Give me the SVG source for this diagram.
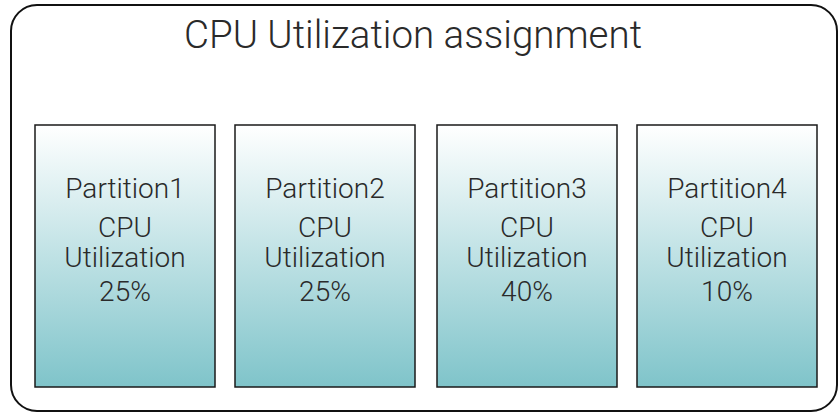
<svg xmlns="http://www.w3.org/2000/svg" width="839" height="414" viewBox="0 0 839 414">
<defs>
<linearGradient id="g" x1="0" y1="0" x2="0" y2="1">
<stop offset="0" stop-color="#ffffff"/>
<stop offset="1" stop-color="#7fc4ca"/>
</linearGradient>
<style>
.box{fill:url(#g);stroke:#1a1a1a;stroke-width:1.5}
.t{font-family:Roboto,"Liberation Sans",sans-serif;font-weight:300;fill:#2a2a2a;text-anchor:middle}
.l{font-size:28px}
</style>
</defs>
<g id="container">
<rect x="11" y="5" width="826" height="406" rx="26" ry="26" fill="#fff" stroke="#111" stroke-width="2"/>
<text class="t" x="413" y="48" font-size="38.5">CPU Utilization assignment</text>
</g>
<g id="partition1">
<rect class="box" x="35" y="125" width="180" height="262"/>
<text class="t l" x="125" y="198">Partition1</text>
<text class="t l" x="125" y="237">CPU</text>
<text class="t l" x="125" y="267">Utilization</text>
<text class="t l" x="125" y="301">25%</text>
</g>
<g id="partition2">
<rect class="box" x="235" y="125" width="180" height="262"/>
<text class="t l" x="325" y="198">Partition2</text>
<text class="t l" x="325" y="237">CPU</text>
<text class="t l" x="325" y="267">Utilization</text>
<text class="t l" x="325" y="301">25%</text>
</g>
<g id="partition3">
<rect class="box" x="437" y="125" width="180" height="262"/>
<text class="t l" x="527" y="198">Partition3</text>
<text class="t l" x="527" y="237">CPU</text>
<text class="t l" x="527" y="267">Utilization</text>
<text class="t l" x="527" y="301">40%</text>
</g>
<g id="partition4">
<rect class="box" x="637" y="125" width="180" height="262"/>
<text class="t l" x="727" y="198">Partition4</text>
<text class="t l" x="727" y="237">CPU</text>
<text class="t l" x="727" y="267">Utilization</text>
<text class="t l" x="727" y="301">10%</text>
</g>
<g id="connectors"/>
</svg>
